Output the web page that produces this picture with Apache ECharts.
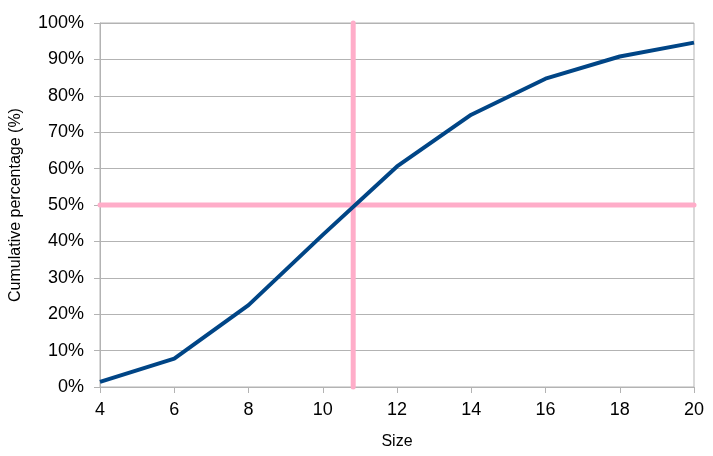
<!DOCTYPE html>
<html>
<head>
<meta charset="utf-8">
<script src="https://cdn.jsdelivr.net/npm/echarts@6/dist/echarts.min.js"></script>
<style>
html,body{margin:0;padding:0;background:#fff;}
#chart{width:713px;height:456px;}
</style>
</head>
<body>
<div id="chart"></div>
<script>
const sizes = [4, 6, 8, 10, 12, 14, 16, 18, 20];
const cumulativePct = [1.4, 7.8, 22.5, 41.8, 60.6, 74.8, 84.7, 90.8, 94.6];
const medianSize = 10.82;
const medianPct = 50;

const mainData = sizes.map((s, i) => [s, cumulativePct[i]]);
const vLine = [[medianSize, 0], [medianSize, 100]];
const hLine = [[4, medianPct], [20, medianPct]];

const font = '"Liberation Sans", Arial, sans-serif';
const gridColor = '#b3b3b3';
const chart = echarts.init(document.getElementById('chart'));
chart.setOption({
  animation: false,
  backgroundColor: '#ffffff',
  grid: { left: 100, right: 19, top: 23, bottom: 69, show: true, borderColor: gridColor, borderWidth: 1 },
  xAxis: {
    type: 'value', min: 4, max: 20, interval: 2,
    name: 'Size', nameLocation: 'middle', nameGap: 47,
    nameTextStyle: { fontFamily: font, fontSize: 16, color: '#000' },
    axisLine: { show: true, lineStyle: { color: gridColor } },
    axisTick: { show: true, length: 6, lineStyle: { color: gridColor } },
    axisLabel: { fontFamily: font, fontSize: 18, color: '#000', margin: 14 },
    splitLine: { show: false }
  },
  yAxis: {
    type: 'value', min: 0, max: 100, interval: 10,
    name: 'Cumulative percentage (%)', nameLocation: 'middle', nameGap: 76,
    nameTextStyle: { fontFamily: font, fontSize: 16, color: '#000' },
    axisLine: { show: true, lineStyle: { color: gridColor } },
    axisTick: { show: true, length: 6, lineStyle: { color: gridColor } },
    axisLabel: { fontFamily: font, fontSize: 18, color: '#000', margin: 16, formatter: '{value}%' },
    splitLine: { show: true, lineStyle: { color: gridColor } }
  },
  series: [
    { type: 'line', data: vLine, symbol: 'none', clip: false, z: 2,
      lineStyle: { color: '#ffadc9', width: 5, cap: 'round' } },
    { type: 'line', data: hLine, symbol: 'none', clip: false, z: 2,
      lineStyle: { color: '#ffadc9', width: 5, cap: 'round' } },
    { type: 'line', data: mainData, symbol: 'none', z: 3,
      lineStyle: { color: '#004586', width: 4 } }
  ]
});
</script>
</body>
</html>
